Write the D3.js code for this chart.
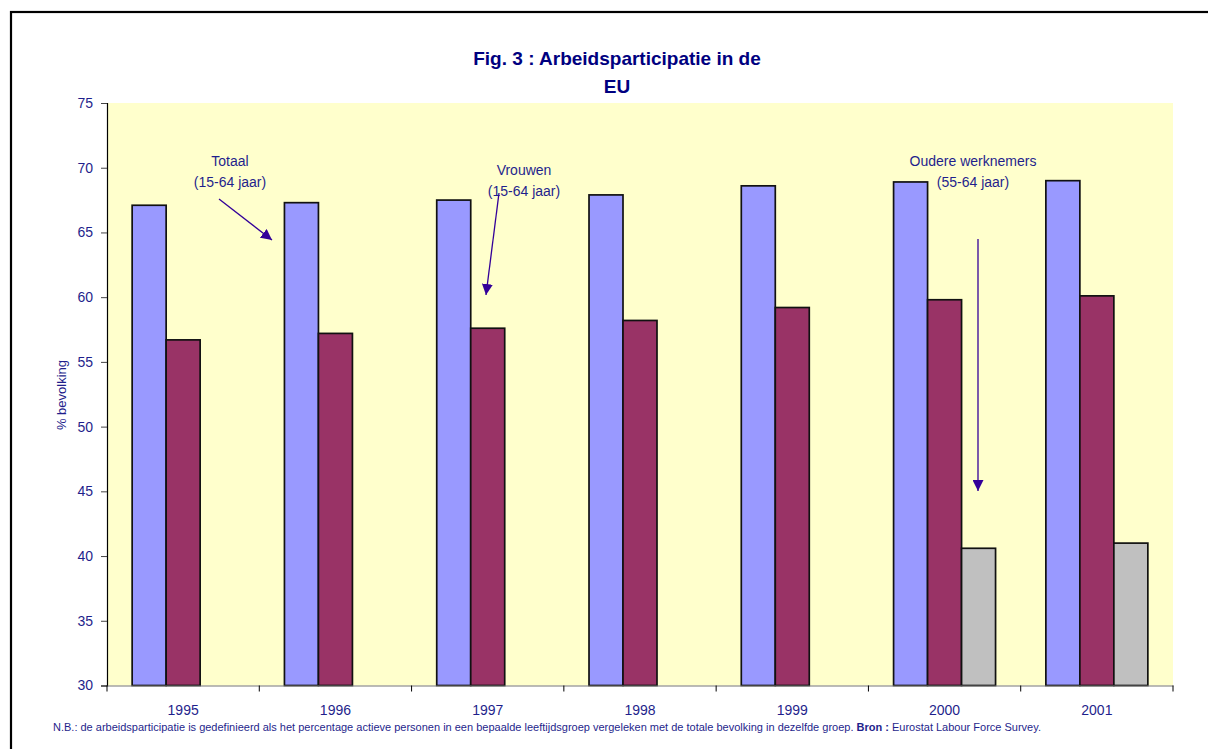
<!DOCTYPE html>
<html>
<head>
<meta charset="utf-8">
<script src="https://cdn.jsdelivr.net/npm/d3@7"></script>
<style>
  body { margin: 0; background: #fff; }
  svg { display: block; }
  text { font-family: "Liberation Sans", Arial, sans-serif; }
</style>
</head>
<body>
<svg id="chart" width="1208" height="749"></svg>
<script>
const years = ["1995", "1996", "1997", "1998", "1999", "2000", "2001"];
const seriesNames = ["Totaal", "Vrouwen", "Oudere werknemers"];
const totaal = [67.1, 67.3, 67.5, 67.9, 68.6, 68.9, 69.0];
const vrouwen = [56.7, 57.2, 57.6, 58.2, 59.2, 59.8, 60.1];
const ouderen = [null, null, null, null, null, 40.6, 41.0];
const yTicks = [30, 35, 40, 45, 50, 55, 60, 65, 70, 75];
const colors = ["#9999FF", "#993366", "#C0C0C0"];

(function () {
const svg = d3.select("#chart");
const navy = "#1f1f8c";

// outer frame
svg.append("rect").attr("x", 11).attr("y", 12).attr("width", 1300).attr("height", 800)
  .attr("fill", "none").attr("stroke", "#000").attr("stroke-width", 2.2);

const pLeft = 107, pRight = 1173, pTop = 103, pBottom = 685.5;

const x = d3.scaleBand().domain(years).range([pLeft, pRight]).paddingInner(0).paddingOuter(0);
const x1 = d3.scaleBand().domain(seriesNames).range([0, x.bandwidth()]).paddingInner(0).paddingOuter(0.74);
const y = d3.scaleLinear().domain([30, 75]).range([pBottom, pTop]);

svg.append("rect").attr("x", pLeft).attr("y", pTop).attr("width", pRight - pLeft).attr("height", pBottom - pTop)
  .attr("fill", "#FFFFCC");

// bars
const data = [totaal, vrouwen, ouderen];
data.forEach((vals, si) => {
  svg.append("g").selectAll("rect")
    .data(years.map((yr, i) => ({yr, v: vals[i]})).filter(d => d.v != null))
    .join("rect")
    .attr("x", d => x(d.yr) + x1(seriesNames[si]))
    .attr("y", d => y(d.v))
    .attr("width", x1.bandwidth())
    .attr("height", d => y(30) - y(d.v))
    .attr("fill", colors[si])
    .attr("stroke", "#111")
    .attr("stroke-width", 1.7);
});

const narrow = "'Liberation Sans Narrow', 'Liberation Sans', Arial, sans-serif";

// y axis
const yAxis = svg.append("g").attr("transform", `translate(${pLeft},0)`)
  .call(d3.axisLeft(y).tickValues(yTicks).tickSize(6).tickPadding(8));
yAxis.select(".domain").attr("stroke", "#000").attr("stroke-width", 1.2);
yAxis.selectAll(".tick line").attr("stroke", "#444").attr("stroke-width", 1);
yAxis.selectAll(".tick text").attr("fill", navy).style("font-size", "14px").style("font-family", narrow);

// x axis
const xAxis = svg.append("g").attr("transform", `translate(0,${pBottom})`)
  .call(d3.axisBottom(x).tickSize(0).tickPadding(20));
xAxis.select(".domain").attr("stroke", "#777").attr("stroke-width", 1.2);
xAxis.selectAll(".tick text").attr("fill", navy).style("font-size", "14px").style("font-family", narrow);
// separators between categories
const seps = years.map(yr => x(yr) + x.bandwidth()).concat([pLeft]);
svg.append("g").selectAll("line").data(seps).join("line")
  .attr("x1", d => d).attr("x2", d => d)
  .attr("y1", pBottom).attr("y2", pBottom + 6)
  .attr("stroke", "#000").attr("stroke-width", 1);

// y axis title
svg.append("text").attr("transform", "translate(66,395) rotate(-90)")
  .attr("text-anchor", "middle").attr("fill", navy).style("font-size", "13px")
  .style("font-family", narrow)
  .text("% bevolking");

// title
const title = svg.append("text").attr("text-anchor", "middle").attr("fill", "#000080")
  .style("font-size", "19px").style("font-weight", "bold").style("font-family", narrow);
title.append("tspan").attr("x", 617).attr("y", 65).text("Fig. 3 : Arbeidsparticipatie in de");
title.append("tspan").attr("x", 617).attr("y", 93).text("EU");

// annotations
svg.append("defs").append("marker").attr("id", "arr").attr("viewBox", "0 0 10 10")
  .attr("refX", 10).attr("refY", 5).attr("markerWidth", 11).attr("markerHeight", 11)
  .attr("markerUnits", "userSpaceOnUse").attr("orient", "auto")
  .append("path").attr("d", "M0,0 L10,5 L0,10 Z").attr("fill", "#330099");

function annot(cx, y0, lines, x1a, y1a, x2a, y2a) {
  const t = svg.append("text").attr("text-anchor", "middle").attr("fill", navy)
    .style("font-size", "14px").style("font-family", narrow);
  lines.forEach((l, i) => t.append("tspan").attr("x", cx).attr("y", y0 + i * 21).text(l));
  svg.append("line").attr("x1", x1a).attr("y1", y1a).attr("x2", x2a).attr("y2", y2a)
    .attr("stroke", "#330099").attr("stroke-width", 1.3).attr("marker-end", "url(#arr)");
}
annot(230, 166, ["Totaal", "(15-64 jaar)"], 219, 199, 272, 240);
annot(524, 175, ["Vrouwen", "(15-64 jaar)"], 499, 193, 486, 295);
annot(973, 166, ["Oudere werknemers", "(55-64 jaar)"], 978, 239, 978, 491);

// footnote
const fn = svg.append("text").attr("x", 53).attr("y", 731).attr("fill", navy)
  .style("font-size", "11px").style("font-family", narrow);
fn.append("tspan").text("N.B.: de arbeidsparticipatie is gedefinieerd als het percentage actieve personen in een bepaalde leeftijdsgroep vergeleken met de totale bevolking in dezelfde groep. ");
fn.append("tspan").style("font-weight", "bold").text("Bron :");
fn.append("tspan").text(" Eurostat Labour Force Survey.");
})();
</script>
</body>
</html>
